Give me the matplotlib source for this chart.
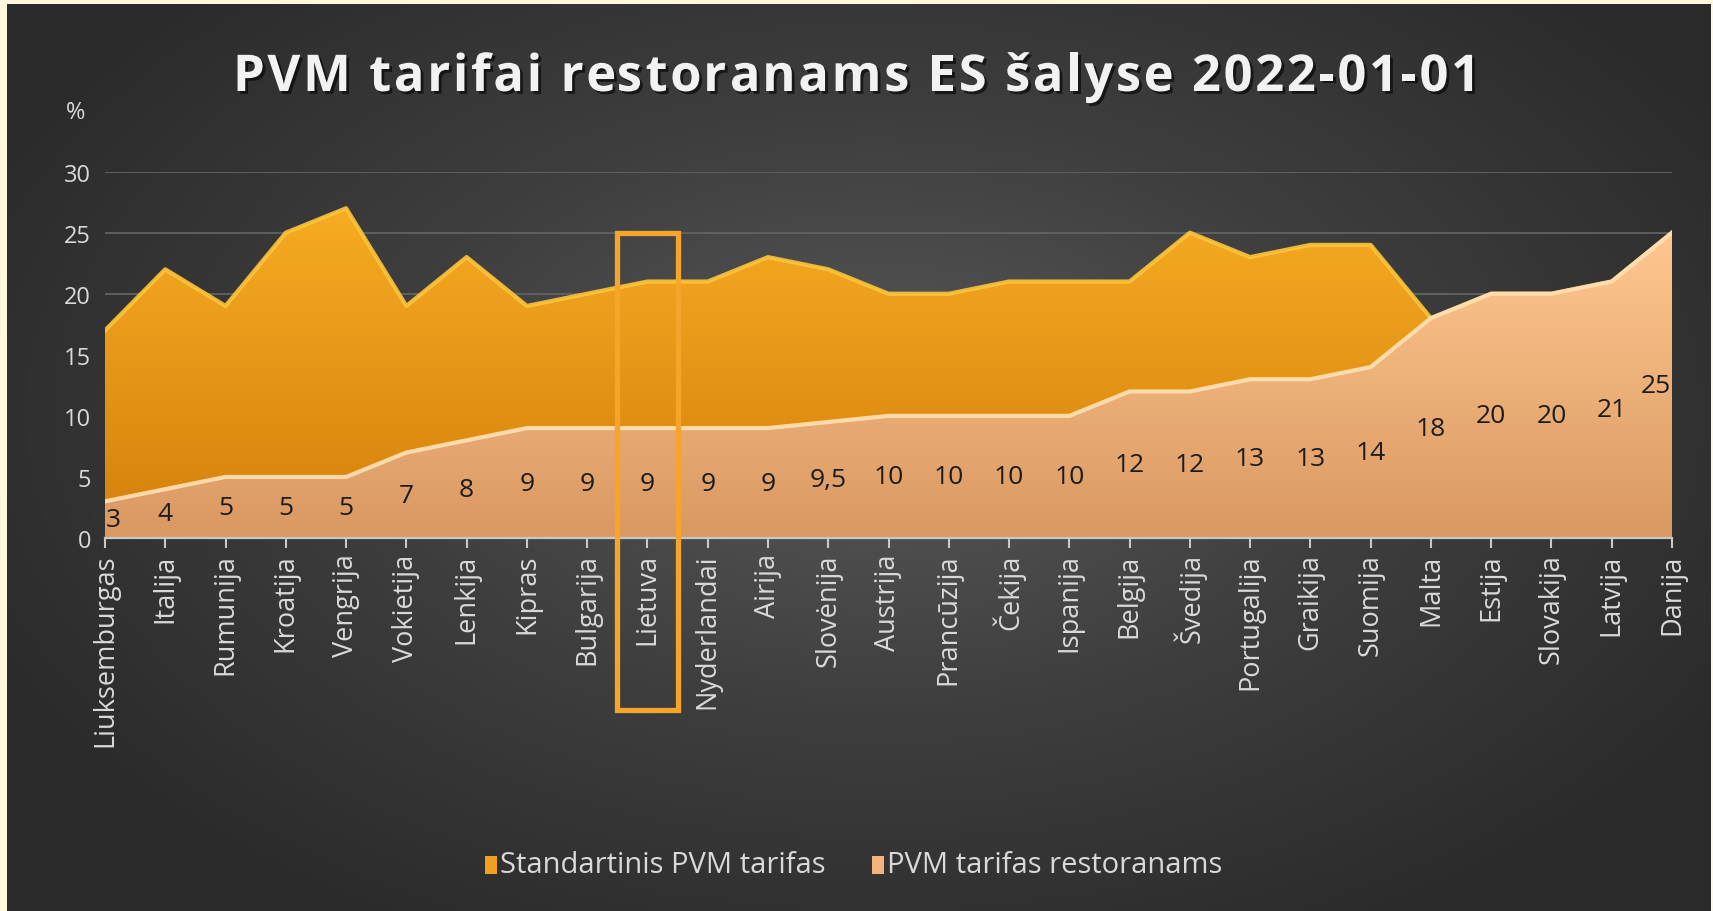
import numpy as np
import matplotlib
matplotlib.use("Agg")
import matplotlib.pyplot as plt
from matplotlib.colors import LinearSegmentedColormap
from matplotlib.patches import Rectangle
from matplotlib.font_manager import FontProperties
import matplotlib.patheffects as pe

plt.rcParams['font.family'] = ['Open Sans', 'DejaVu Sans']

countries = ["Liuksemburgas", "Italija", "Rumunija", "Kroatija", "Vengrija", "Vokietija",
             "Lenkija", "Kipras", "Bulgarija", "Lietuva", "Nyderlandai", "Airija",
             "Slovėnija", "Austrija", "Prancūzija", "Čekija", "Ispanija", "Belgija",
             "Švedija", "Portugalija", "Graikija", "Suomija", "Malta", "Estija",
             "Slovakija", "Latvija", "Danija"]
standard_vat = [17, 22, 19, 25, 27, 19, 23, 19, 20, 21, 21, 23, 22, 20, 20, 21, 21, 21,
                25, 23, 24, 24, 18, 20, 20, 21, 25]
restaurant_vat = [3, 4, 5, 5, 5, 7, 8, 9, 9, 9, 9, 9, 9.5, 10, 10, 10, 10, 12, 12, 13, 13,
                  14, 18, 20, 20, 21, 25]
yticks = [0, 5, 10, 15, 20, 25, 30]
highlight = "Lietuva"
title = "PVM tarifai restoranams ES šalyse 2022-01-01"
legend_labels = ["Standartinis PVM tarifas", "PVM tarifas restoranams"]

W, H = 1713, 912
fig = plt.figure(figsize=(W / 100, H / 100), dpi=100, facecolor="#FFF8DC")

# dark radial gradient panel
bg = fig.add_axes([7 / W, 0, (1711 - 7) / W, (H - 5) / H])
bg.set_axis_off()
yy, xx = np.mgrid[0:300, 0:560]
cx, cy = 0.51 * 560, 0.45 * 300
r = np.sqrt(((xx - cx) / 330) ** 2 + ((yy - cy) / 200) ** 2)
r = np.clip(r, 0, 1)
bgcmap = LinearSegmentedColormap.from_list("bg", ["#595959", "#3e3e3e", "#2a2a2a"])
bg.imshow(r, cmap=bgcmap, aspect="auto", extent=[0, 1, 0, 1], vmin=0, vmax=1)
bg.set_xlim(0, 1)
bg.set_ylim(0, 1)

x0, x1 = 105, 1672
y0, y30 = 539, 172.6
ax = fig.add_axes([x0 / W, (H - y0) / H, (x1 - x0) / W, (y0 - y30) / H])
ax.set_facecolor("none")
n = len(countries)
x = np.arange(n)


def grad_fill(xv, yv, top, bottom, ymax, z):
    poly = ax.fill_between(xv, 0, yv, facecolor="none", edgecolor="none", zorder=z)
    cmap = LinearSegmentedColormap.from_list("g", [bottom, top])
    im = ax.imshow(np.linspace(0, 1, 256).reshape(-1, 1), cmap=cmap, origin="lower",
                   extent=[xv[0], xv[-1], 0, ymax], aspect="auto", zorder=z)
    im.set_clip_path(poly.get_paths()[0], transform=ax.transData)


grad_fill(x, standard_vat, "#F6AC22", "#D47F0C", 27, 2)
ax.plot(x, standard_vat, color="#FFC63C", lw=3, zorder=2.5, solid_joinstyle="round", alpha=0.9)
grad_fill(x, restaurant_vat, "#FFC890", "#DA9862", 25, 3)
ax.plot(x, restaurant_vat, color="#FFE2B6", lw=3, zorder=3.5, solid_joinstyle="round", alpha=0.9)

ax.set_xlim(0, n - 1)
ax.set_ylim(0, 30)

for yv in yticks[1:]:
    ax.axhline(yv, color="#626262", lw=1.3, zorder=1)

for s in ["top", "right", "left"]:
    ax.spines[s].set_visible(False)
ax.spines["bottom"].set_color("#c8c8c8")
ax.spines["bottom"].set_linewidth(1.6)
ax.spines["bottom"].set_zorder(5)

ax.set_yticks(yticks)
ax.set_yticklabels([str(v) for v in yticks], fontsize=17, color="#d9d9d9")
ax.tick_params(axis="y", length=0, pad=10)
ax.set_xticks(x)
ax.set_xticklabels(countries, rotation=90, fontsize=19.5, color="#d9d9d9")
ax.tick_params(axis="x", length=7, width=1.5, color="#c8c8c8", pad=4, direction="out")

# data labels
for i, v in enumerate(restaurant_vat):
    lab = ("%g" % v).replace(".", ",")
    ha = "center"
    xi = i
    if i == 0:
        ha = "left"
        xi = i + 0.02
    elif i == n - 1:
        ha = "right"
        xi = i - 0.02
    ax.text(xi, v / 2, lab, ha=ha, va="center", fontsize=19, color="#1c1c1c", zorder=6)

# highlight box
hi = countries.index(highlight)
ax.add_patch(Rectangle((hi - 0.5, -14.1), 1.0, 39.1, fill=False, edgecolor="#F5A52A",
                       lw=3.8, clip_on=False, zorder=7))

# title with letter spacing
renderer = fig.canvas.get_renderer()
fp = FontProperties(family="Open Sans", weight="bold", size=36.5)


def tw(s):
    return renderer.get_text_width_height_descent(s, fp, ismath=False)[0]


base = tw("x")
full_w = tw(title)
target_left, target_w = 233, 1247
track = (target_w - full_w) / (len(title) - 1)
ty = 1 - 79 / H
for i, ch in enumerate(title):
    if ch == " ":
        continue
    px = target_left + (tw(title[:i] + "x") - base if i > 0 else 0) + i * track
    fig.text(px / W, ty, ch, ha="left", va="center", fontproperties=fp, color="#f2f2f2",
             path_effects=[pe.withSimplePatchShadow(offset=(2, -2), shadow_rgbFace="black", alpha=0.6)])

fig.text(76 / W, 1 - 113 / H, "%", ha="center", va="center", fontsize=17, color="#d9d9d9")

# legend
leg_cols = ["#F0A01E", "#F2B47A"]
leg_x = [485, 872]
for label, col, px in zip(legend_labels, leg_cols, leg_x):
    fig.patches.append(Rectangle((px / W, 1 - 875 / H), 12 / W, 18 / H, transform=fig.transFigure,
                                 facecolor=col, edgecolor="none"))
    fig.text((px + 15) / W, 1 - 866 / H, label, ha="left", va="center", fontsize=21, color="#d9d9d9")

fig.savefig("out.png", dpi=100, facecolor=fig.get_facecolor())
